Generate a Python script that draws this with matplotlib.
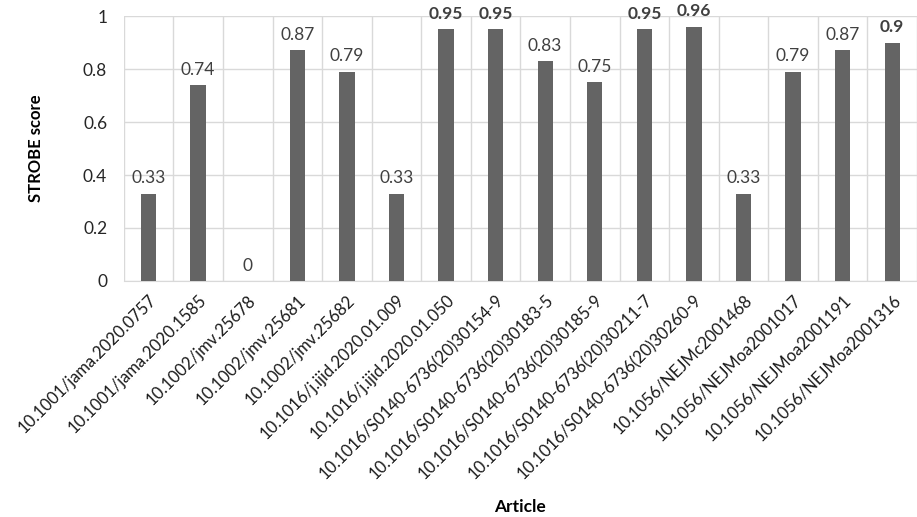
import numpy as np
import matplotlib.pyplot as plt

plt.rcParams['font.family'] = ['Lato', 'DejaVu Sans']

# STROBE scores per article (DOI)
articles = ['10.1001/jama.2020.0757', '10.1001/jama.2020.1585', '10.1002/jmv.25678',
            '10.1002/jmv.25681', '10.1002/jmv.25682', '10.1016/j.ijid.2020.01.009',
            '10.1016/j.ijid.2020.01.050', '10.1016/S0140-6736(20)30154-9',
            '10.1016/S0140-6736(20)30183-5', '10.1016/S0140-6736(20)30185-9',
            '10.1016/S0140-6736(20)30211-7', '10.1016/S0140-6736(20)30260-9',
            '10.1056/NEJMc2001468', '10.1056/NEJMoa2001017', '10.1056/NEJMoa2001191',
            '10.1056/NEJMoa2001316']
scores = [0.33, 0.74, 0, 0.87, 0.79, 0.33, 0.95, 0.95, 0.83, 0.75, 0.95, 0.96, 0.33, 0.79, 0.87, 0.9]
yticks = [0, 0.2, 0.4, 0.6, 0.8, 1]

fig = plt.figure(figsize=(9.17, 5.17), dpi=100)
ax = fig.add_axes([0.135, 0.4565, 0.865, 0.5125])

x = np.arange(len(articles))
ax.bar(x, scores, width=0.31, color='#646464', zorder=3)

# value labels, the top ones in bold
for xi, s in zip(x, scores):
    ax.annotate(f'{s:g}', (xi, s), xytext=(0, 7.5), textcoords='offset points',
                ha='center', va='baseline', fontsize=12.5, color='#404040',
                fontweight='bold' if s >= 0.9 else 'normal', annotation_clip=False)

ax.set_xlim(-0.5, len(articles) - 0.5)
ax.set_ylim(0, 1)
ax.set_yticks(yticks)
ax.set_yticklabels([f'{v:g}' for v in yticks], fontsize=12.5, color='#262626')
ax.set_xticks(x)
ax.set_xticklabels(articles, rotation=45, ha='right', rotation_mode='anchor', fontsize=12, color='#1a1a1a')
ax.set_xticks(np.arange(len(articles) + 1) - 0.5, minor=True)
ax.tick_params(axis='both', which='both', length=0)
ax.tick_params(axis='y', pad=12)
ax.tick_params(axis='x', pad=8)

ax.grid(True, axis='y', color='#d9d9d9', linewidth=1, zorder=0)
ax.grid(True, axis='x', which='minor', color='#d9d9d9', linewidth=1, zorder=0)
ax.grid(False, axis='x', which='major')
for sp in ['top', 'right', 'left']:
    ax.spines[sp].set_visible(False)
ax.spines['bottom'].set_color('#d9d9d9')

ax.set_ylabel('STROBE score', fontsize=12, fontweight='bold', labelpad=28)
fig.text(0.567, 0.01, 'Article', fontsize=12.5, fontweight='bold', ha='center', va='baseline')

fig.savefig('out.png', dpi=100)
